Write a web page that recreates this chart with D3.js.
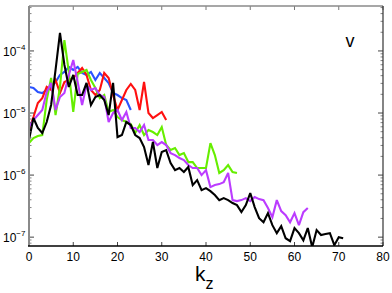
<!DOCTYPE html>
<html><head><meta charset="utf-8">
<script src="https://cdn.jsdelivr.net/npm/d3@7"></script>
<style>body{margin:0;background:#fff}svg{display:block}text{font-family:"Liberation Sans",Arial,sans-serif}</style>
</head><body><svg id="c" width="392" height="293"></svg>
<script>
const xTicks = [0,10,20,30,40,50,60,70,80];
const yTicks = [1e-7,1e-6,1e-5,1e-4];
const yTickExp = ["\u22127","\u22126","\u22125","\u22124"];

const redVals = [5.32e-6,8.62e-6,1.45e-5,1.74e-5,2.63e-5,2.35e-5,3.41e-5,2.10e-5,3.16e-5,3.41e-5,3.67e-5,4.42e-5,5.32e-5,4.10e-5,2.35e-5,1.95e-5,2.35e-5,4.42e-5,3.67e-5,1.95e-5,1.12e-5,1.62e-5,2.35e-5,2.94e-5,2.35e-5,1.12e-5,3.16e-5,1.0e-5,8.31e-6,9.28e-6,1.04e-5,7.7e-6];
const blueVals = [2.63e-5,2.53e-5,2.18e-5,2.10e-5,2.35e-5,2.63e-5,3.16e-5,4.10e-5,4.59e-5,5.52e-5,4.94e-5,5.52e-5,4.42e-5,4.10e-5,4.59e-5,3.41e-5,4.42e-5,3.67e-5,3.05e-5,2.10e-5,1.95e-5,1.74e-5,1.62e-5,1.12e-5];
const greenVals = [3.28e-6,3.95e-6,4.26e-6,4.42e-6,1.62e-5,3.67e-5,9.28e-6,2.63e-5,1.50e-4,4.59e-5,1.04e-5,4.26e-5,4.59e-5,4.94e-5,3.41e-5,2.53e-5,1.74e-5,1.95e-5,1.04e-5,1.12e-5,8.62e-6,7.7e-6,7.16e-6,6.65e-6,4.76e-6,6.40e-6,4.42e-6,5.32e-6,4.94e-6,4.42e-6,5.95e-6,3.05e-6,2.53e-6,2.73e-6,2.10e-6,2.26e-6,1.62e-6,1.62e-6,1.30e-6,1.30e-6,1.30e-6,3.28e-6,2.10e-6,1.08e-6,1.20e-6,1.45e-6,1.12e-6,1.08e-6];
const purpleVals = [5.95e-6,7.7e-6,9.28e-6,1.12e-5,2.18e-5,3.05e-5,1.12e-5,1.81e-5,2.10e-5,4.10e-5,7.16e-5,3.16e-5,1.35e-5,2.83e-5,2.35e-5,2.53e-5,1.95e-5,1.81e-5,7.16e-6,1.0e-5,1.12e-5,7.7e-6,1.04e-5,5.73e-6,5.73e-6,4.94e-6,6.40e-6,3.67e-6,3.67e-6,3.05e-6,3.41e-6,3.05e-6,2.26e-6,2.10e-6,1.88e-6,1.74e-6,1.45e-6,1.30e-6,1.30e-6,1.0e-6,1.20e-6,6.40e-7,6.90e-7,7.16e-7,7.7e-7,1.08e-6,3.95e-7,3.81e-7,3.95e-7,4.26e-7,3.81e-7,4.42e-7,4.10e-7,3.95e-7,2.94e-7,2.10e-7,3.95e-7,2.63e-7,2.26e-7,1.74e-7,2.44e-7,1.56e-7,2.53e-7,2.94e-7];
const blackVals = [3.67e-6,8.31e-6,5.73e-6,4.76e-6,7.16e-6,1.35e-5,4.94e-5,1.95e-4,5.95e-5,2.63e-5,4.10e-5,1.95e-5,1.95e-5,3.05e-5,1.35e-5,1.81e-5,1.95e-5,1.62e-5,9.28e-6,3.05e-5,4.10e-6,4.42e-6,7.16e-6,6.40e-6,4.42e-6,3.95e-6,2.83e-6,1.45e-6,3.41e-6,1.30e-6,2.35e-6,2.53e-6,1.56e-6,1.20e-6,1.30e-6,1.12e-6,1.35e-6,6.90e-7,8.31e-7,5.73e-7,6.17e-7,5.52e-7,4.76e-7,3.95e-7,4.26e-7,3.95e-7,3.54e-7,3.28e-7,2.53e-7,3.28e-7,5.13e-7,3.05e-7,2.02e-7,1.74e-7,2.44e-7,1.56e-7,1.16e-7,1.50e-7,9.6e-8,8.62e-8,1.40e-7,1.16e-7,8.9e-8,1.40e-7,6.9e-8,1.30e-7,1.08e-7,1.12e-7,1.16e-7,7.43e-8,1.0e-7,9.6e-8];

const seriesList = [
  {name:"blue", color:"#2a52ff", vals:blueVals},
  {name:"red", color:"#ff1010", vals:redVals},
  {name:"green", color:"#66ee00", vals:greenVals},
  {name:"purple", color:"#bb3cff", vals:purpleVals},
  {name:"black", color:"#000000", vals:blackVals}
];

const L=29, R=383, T=6, B=246;
const svg = d3.select("#c");
const x = d3.scaleLinear().domain([0,80]).range([L,R]);
const y = d3.scaleLog().domain([7.2e-8,5.3e-4]).range([B,T]);

svg.append("defs").append("clipPath").attr("id","clip")
  .append("rect").attr("x",L).attr("y",T).attr("width",R-L).attr("height",B-T);

const line = d3.line().x((d,i)=>x(i)).y(d=>y(d));
const g = svg.append("g").attr("clip-path","url(#clip)");
seriesList.forEach(s=>{
  g.append("path").datum(s.vals).attr("d",line)
    .attr("fill","none").attr("stroke",s.color).attr("stroke-width",2.1)
    .attr("stroke-linejoin","miter").attr("stroke-miterlimit",3);
});

// minor y ticks
const minor=[];
for(let e=-8;e<=-4;e++) for(let m=2;m<=9;m++){const v=m*Math.pow(10,e); if(v>7.2e-8&&v<5.3e-4) minor.push(v);}
const ax = svg.append("g");
minor.forEach(v=>{
  ax.append("line").attr("x1",L).attr("x2",L+2.5).attr("y1",y(v)).attr("y2",y(v)).attr("stroke","#666").attr("stroke-width",0.8);
  ax.append("line").attr("x1",R).attr("x2",R-2.5).attr("y1",y(v)).attr("y2",y(v)).attr("stroke","#666").attr("stroke-width",0.8);
});
yTicks.forEach((v,i)=>{
  ax.append("line").attr("x1",L).attr("x2",L+5).attr("y1",y(v)).attr("y2",y(v)).attr("stroke","#444").attr("stroke-width",1);
  ax.append("line").attr("x1",R).attr("x2",R-5).attr("y1",y(v)).attr("y2",y(v)).attr("stroke","#444").attr("stroke-width",1);
  const t = ax.append("text").attr("x",3).attr("y",y(v)+5).attr("font-size",12).attr("fill","#000");
  t.append("tspan").text("10");
  t.append("tspan").attr("font-size",8).attr("dy",-6).text(yTickExp[i]);
});
xTicks.forEach(v=>{
  ax.append("line").attr("x1",x(v)).attr("x2",x(v)).attr("y1",B).attr("y2",B-4).attr("stroke","#444");
  ax.append("line").attr("x1",x(v)).attr("x2",x(v)).attr("y1",T).attr("y2",T+4).attr("stroke","#777");
  ax.append("text").attr("x",x(v)).attr("y",261).attr("text-anchor","middle").attr("font-size",12).attr("fill","#000").text(v);
});
// frame
ax.append("line").attr("x1",L).attr("x2",L).attr("y1",T).attr("y2",B).attr("stroke","#8a8a8a").attr("stroke-width",2);
ax.append("line").attr("x1",L).attr("x2",R).attr("y1",T).attr("y2",T).attr("stroke","#8a8a8a").attr("stroke-width",1.5);
ax.append("line").attr("x1",R).attr("x2",R).attr("y1",T).attr("y2",B).attr("stroke","#333").attr("stroke-width",1.2);
ax.append("line").attr("x1",L-1).attr("x2",R).attr("y1",B).attr("y2",B).attr("stroke","#000").attr("stroke-width",1.5);

// labels
const kl = svg.append("text").attr("x",195).attr("y",281).attr("font-size",21).attr("fill","#000");
kl.append("tspan").text("k");
kl.append("tspan").attr("font-size",16).attr("dy",8).text("z");
svg.append("text").attr("x",350).attr("y",47).attr("text-anchor","middle").attr("font-size",18).attr("fill","#000").text("v");
</script></body></html>
